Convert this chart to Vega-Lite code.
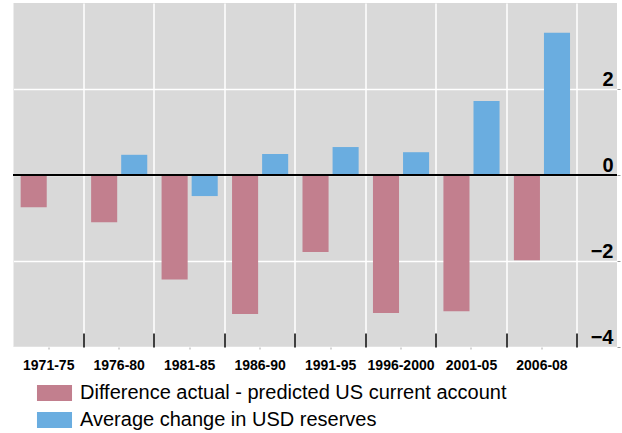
{
  "$schema": "https://vega.github.io/schema/vega-lite/v6.json",
  "width": 603.5,
  "height": 344,
  "autosize": {"type": "none"},
  "padding": {"left": 13.5, "top": 3, "right": 5, "bottom": 86},
  "background": "white",
  "config": {"view": {"fill": "#D9D9D9", "stroke": null}, "font": "Liberation Sans"},
  "data": {
    "values": [
      {"period": "1971-75", "series": "Difference actual - predicted US current account", "value": -0.75},
      {"period": "1971-75", "series": "Average change in USD reserves", "value": 0.02},
      {"period": "1976-80", "series": "Difference actual - predicted US current account", "value": -1.1},
      {"period": "1976-80", "series": "Average change in USD reserves", "value": 0.47},
      {"period": "1981-85", "series": "Difference actual - predicted US current account", "value": -2.43},
      {"period": "1981-85", "series": "Average change in USD reserves", "value": -0.49},
      {"period": "1986-90", "series": "Difference actual - predicted US current account", "value": -3.23},
      {"period": "1986-90", "series": "Average change in USD reserves", "value": 0.49},
      {"period": "1991-95", "series": "Difference actual - predicted US current account", "value": -1.79},
      {"period": "1991-95", "series": "Average change in USD reserves", "value": 0.65},
      {"period": "1996-2000", "series": "Difference actual - predicted US current account", "value": -3.21},
      {"period": "1996-2000", "series": "Average change in USD reserves", "value": 0.53},
      {"period": "2001-05", "series": "Difference actual - predicted US current account", "value": -3.17},
      {"period": "2001-05", "series": "Average change in USD reserves", "value": 1.72},
      {"period": "2006-08", "series": "Difference actual - predicted US current account", "value": -1.98},
      {"period": "2006-08", "series": "Average change in USD reserves", "value": 3.31}
    ]
  },
  "layer": [
    {
      "mark": {"type": "bar", "opacity": 0},
      "encoding": {
        "x": {
          "field": "period", "type": "nominal", "sort": null,
          "scale": {"paddingInner": 0, "paddingOuter": 0.2825, "align": 0},
          "axis": {
            "orient": "bottom", "bandPosition": 1, "grid": true, "gridColor": "white", "gridWidth": 1.5, "gridOpacity": 1,
            "ticks": true, "tickColor": "black", "tickSize": -14, "tickWidth": 1.5,
            "labels": false, "domain": false, "title": null
          }
        },
        "y": {
          "field": "value", "type": "quantitative",
          "scale": {"domain": [-4, 4], "nice": false, "zero": false},
          "axis": {
            "orient": "right", "values": [-4, -2, 0, 2], "grid": true, "gridColor": "white", "gridWidth": 1.5, "gridOpacity": 1,
            "domain": false, "ticks": true, "tickSize": 3, "tickColor": "#999999",
            "labelAlign": "right", "labelBaseline": "alphabetic", "labelOffset": -4, "labelPadding": -7,
            "labelFontSize": 20, "labelFontWeight": "bold", "labelColor": "black", "title": null
          }
        }
      }
    },
    {
      "mark": {"type": "bar"},
      "encoding": {
        "x": {
          "field": "period", "type": "nominal", "sort": null,
          "axis": {
            "orient": "bottom", "grid": false,
            "ticks": true, "tickColor": "#AAAAAA", "tickSize": 2, "tickWidth": 1,
            "labelFontWeight": "bold", "labelFontSize": 14, "labelColor": "black",
            "labelPadding": 9, "labelAngle": 0, "labelOverlap": false, "labelBaseline": "top",
            "domain": false, "title": null
          }
        },
        "xOffset": {
          "field": "series", "type": "nominal",
          "sort": ["Difference actual - predicted US current account", "Average change in USD reserves"],
          "scale": {"paddingInner": 0.133, "paddingOuter": 0.238}
        },
        "y": {
          "field": "value", "type": "quantitative"
        },
        "color": {
          "field": "series", "type": "nominal",
          "scale": {
            "domain": ["Difference actual - predicted US current account", "Average change in USD reserves"],
            "range": ["#C27F8E", "#6AADE0"]
          },
          "legend": {
            "orient": "none", "legendX": 31, "legendY": 380, "direction": "vertical", "title": null,
            "symbolType": "M-2.19,-1H2.19V1H-2.19Z", "symbolSize": 256, "symbolStrokeWidth": 0, "symbolOpacity": 1,
            "labelFontSize": 20, "labelColor": "black", "labelLimit": 600, "labelOffset": 15.5, "rowPadding": 7, "padding": 0
          }
        }
      }
    },
    {
      "mark": {"type": "rule", "color": "black", "strokeWidth": 1.5},
      "encoding": {"y": {"datum": 0}}
    }
  ],
  "resolve": {"axis": {"x": "independent"}}
}
